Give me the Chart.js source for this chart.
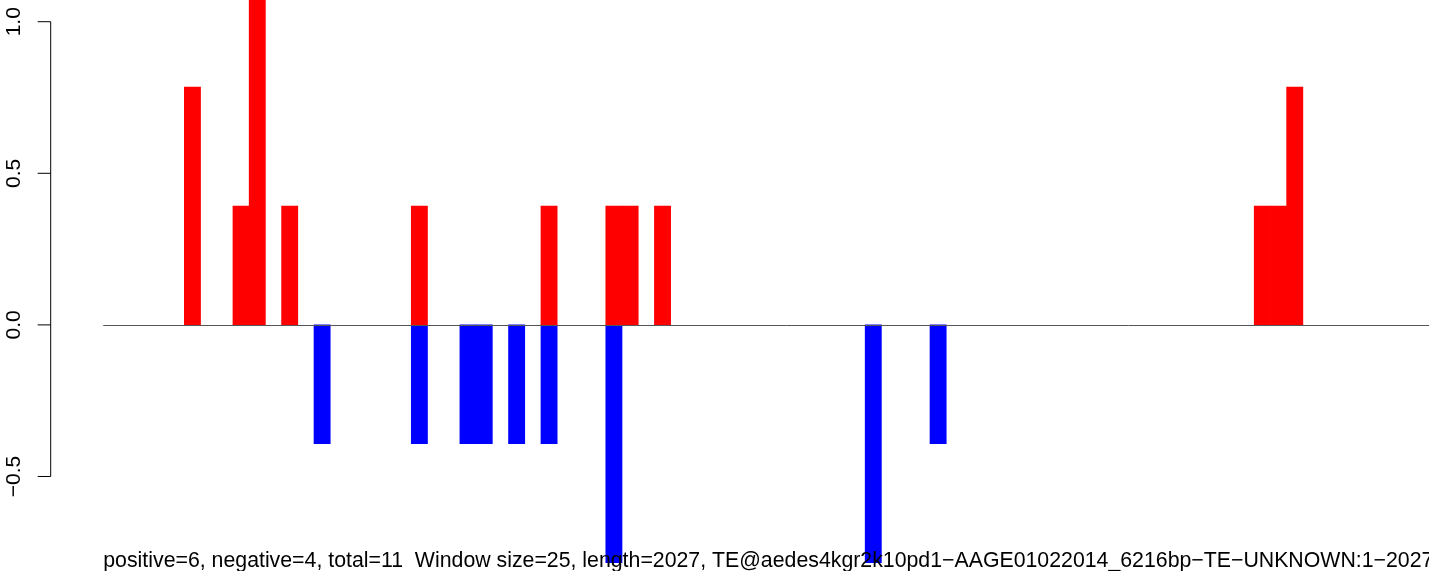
<!DOCTYPE html>
<html>
<head>
<meta charset="utf-8">
<script src="https://cdn.jsdelivr.net/npm/chart.js@4"></script>
<style>
  html, body { margin: 0; padding: 0; background: #fff; overflow: hidden; }
  #wrap { position: relative; width: 1480px; height: 571px; }
</style>
</head>
<body>
<div id="wrap"><canvas id="chart"></canvas></div>
<script>
// Data
const windowSize = 25;
const seqLength = 2027;
const posBins = [5, 8, 9, 11, 19, 27, 31, 32, 34, 71, 72, 73];
const posValues = [0.784, 0.392, 1.176, 0.392, 0.392, 0.392, 0.392, 0.392, 0.392, 0.392, 0.392, 0.784];
const negBins = [13, 19, 22, 23, 25, 27, 31, 47, 51];
const negValues = [-0.392, -0.392, -0.392, -0.392, -0.392, -0.392, -0.784, -0.784, -0.392];
const yTicks = [-0.5, 0, 0.5, 1.0];
const yTickLabels = ['\u22120.5', '0.0', '0.5', '1.0'];
const yMin = -0.8117;
const yMax = 1.0716;
const subtitle = 'positive=6, negative=4, total=11  Window size=25, length=2027, TE@aedes4kgr2k10pd1\u2212AAGE01022014_6216bp\u2212TE\u2212UNKNOWN:1\u22122027';

const FONT = 'Liberation Sans, Arial, Helvetica, sans-serif';

function toPoints(bins, values) {
    return bins.map((b, i) => ({ x: b * windowSize + windowSize / 2, y: values[i] }));
}

// R-style axis, zero line and subtitle
const rStyle = {
    id: 'rStyle',
    afterDatasetsDraw(chart) {
        const { ctx, chartArea, scales } = chart;
        const x = scales.x, y = scales.y;
        ctx.save();

        // zero line
        const y0 = Math.round(y.getPixelForValue(0)) + 0.5;
        ctx.strokeStyle = '#555555';
        ctx.lineWidth = 1;
        ctx.beginPath();
        ctx.moveTo(x.getPixelForValue(0), y0);
        ctx.lineTo(chartArea.right, y0);
        ctx.stroke();

        // y axis
        const ax = chartArea.left;
        ctx.strokeStyle = '#000';
        ctx.beginPath();
        ctx.moveTo(ax, y.getPixelForValue(yTicks[0]));
        ctx.lineTo(ax, y.getPixelForValue(yTicks[yTicks.length - 1]));
        yTicks.forEach(v => {
            const py = y.getPixelForValue(v);
            ctx.moveTo(ax, py);
            ctx.lineTo(ax - 13, py);
        });
        ctx.stroke();

        ctx.fillStyle = '#000';
        ctx.font = '21px ' + FONT;
        ctx.textAlign = 'center';
        ctx.textBaseline = 'alphabetic';
        yTicks.forEach((v, i) => {
            const py = y.getPixelForValue(v);
            ctx.save();
            ctx.translate(20, py);
            ctx.rotate(-Math.PI / 2);
            ctx.fillText(yTickLabels[i], 0, 0);
            ctx.restore();
        });

        // subtitle
        ctx.font = '21.3px ' + FONT;
        ctx.textAlign = 'left';
        ctx.fillText(subtitle, x.getPixelForValue(0), 566.5);
        ctx.restore();
    }
};

new Chart(document.getElementById('chart'), {
    type: 'bar',
    data: {
        datasets: [
            {
                label: 'positive',
                data: toPoints(posBins, posValues),
                backgroundColor: '#ff0000',
                borderWidth: 0
            },
            {
                label: 'negative',
                data: toPoints(negBins, negValues),
                backgroundColor: '#0000ff',
                borderWidth: 0
            }
        ]
    },
    options: {
        responsive: true,
        maintainAspectRatio: false,
        animation: false,
        layout: { padding: { left: 50.7, right: 9.8, top: 0, bottom: 0 } },
        datasets: { bar: { categoryPercentage: 1, barPercentage: 1 } },
        scales: {
            x: {
                type: 'linear',
                offset: false,
                stacked: true,
                display: false,
                min: -0.04 * seqLength,
                max: 1.04 * seqLength
            },
            y: {
                stacked: true,
                display: false,
                min: yMin,
                max: yMax
            }
        },
        plugins: {
            legend: { display: false },
            tooltip: { enabled: false },
            title: { display: false }
        }
    },
    plugins: [rStyle]
});
</script>
</body>
</html>
